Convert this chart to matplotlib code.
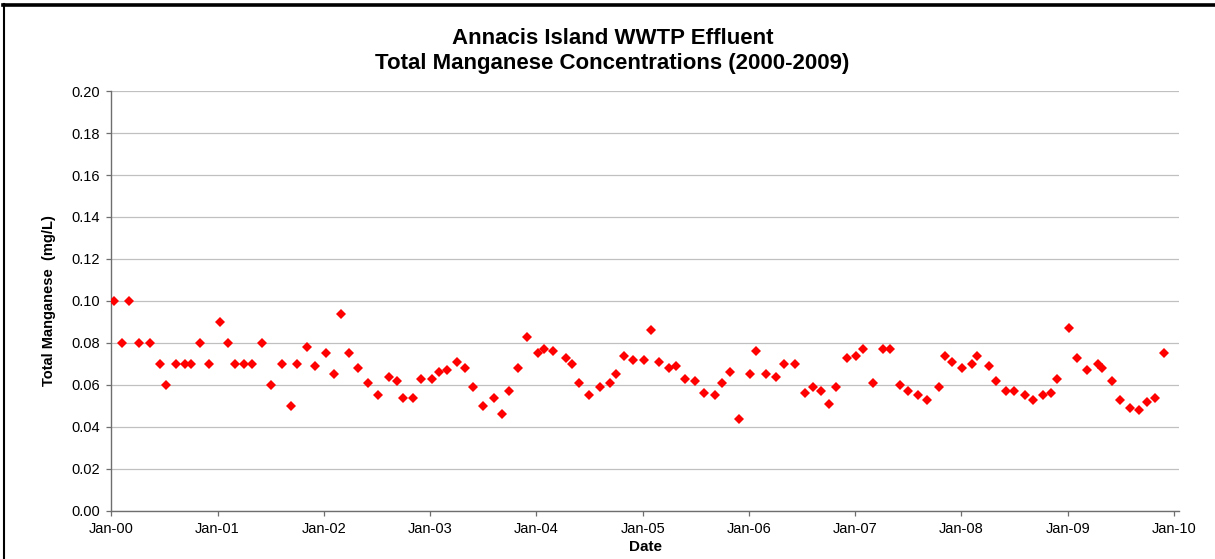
import numpy as np
import pandas as pd
import matplotlib
matplotlib.use("Agg")
import matplotlib.pyplot as plt
import matplotlib.dates as mdates
from matplotlib.lines import Line2D

plt.rcParams['font.family'] = ['Liberation Sans', 'DejaVu Sans']

# sample dates (roughly monthly)
sample_dates = [
    '2000-01-11', '2000-02-08', '2000-03-04', '2000-04-05', '2000-05-14', '2000-06-17',
    '2000-07-08', '2000-08-12', '2000-09-12', '2000-10-02', '2000-10-31', '2000-12-01',
    '2001-01-10', '2001-02-07', '2001-03-01', '2001-04-01', '2001-04-30', '2001-06-03',
    '2001-07-05', '2001-08-11', '2001-09-10', '2001-10-02', '2001-11-05', '2001-12-02',
    '2002-01-09', '2002-02-06', '2002-03-01', '2002-03-30', '2002-04-29', '2002-06-02',
    '2002-07-06', '2002-08-12', '2002-09-09', '2002-10-01', '2002-11-04', '2002-12-01',
    '2003-01-09', '2003-02-02', '2003-02-27', '2003-04-05', '2003-04-30', '2003-05-29',
    '2003-07-03', '2003-08-08', '2003-09-04', '2003-10-01', '2003-11-01', '2003-11-30',
    '2004-01-06', '2004-01-29', '2004-02-28', '2004-04-13', '2004-05-02', '2004-05-27',
    '2004-07-01', '2004-08-07', '2004-09-09', '2004-10-01', '2004-10-28', '2004-11-27',
    '2005-01-07', '2005-01-28', '2005-02-25', '2005-04-01', '2005-04-27', '2005-05-26',
    '2005-06-30', '2005-08-01', '2005-09-07', '2005-10-01', '2005-10-28', '2005-11-29',
    '2006-01-04', '2006-01-27', '2006-03-01', '2006-04-03', '2006-05-01', '2006-06-07',
    '2006-07-13', '2006-08-08', '2006-09-06', '2006-10-04', '2006-10-28', '2006-12-05',
    '2007-01-04', '2007-01-28', '2007-03-04', '2007-04-08', '2007-05-01', '2007-06-05',
    '2007-07-03', '2007-08-05', '2007-09-05', '2007-10-15', '2007-11-06', '2007-12-01',
    '2008-01-02', '2008-02-07', '2008-02-25', '2008-04-04', '2008-04-29', '2008-06-01',
    '2008-07-01', '2008-08-05', '2008-09-03', '2008-10-06', '2008-11-05', '2008-11-26',
    '2009-01-05', '2009-02-03', '2009-03-09', '2009-04-13', '2009-04-28', '2009-06-02',
    '2009-06-28', '2009-08-02', '2009-09-02', '2009-09-29', '2009-10-28', '2009-11-26',
]

# total manganese, mg/L
mn_total = [
    0.100, 0.080, 0.100, 0.080, 0.080, 0.070, 0.060, 0.070, 0.070, 0.070, 0.080, 0.070,
    0.090, 0.080, 0.070, 0.070, 0.070, 0.080, 0.060, 0.070, 0.050, 0.070, 0.078, 0.069,
    0.075, 0.065, 0.094, 0.075, 0.068, 0.061, 0.055, 0.064, 0.062, 0.054, 0.054, 0.063,
    0.063, 0.066, 0.067, 0.071, 0.068, 0.059, 0.050, 0.054, 0.046, 0.057, 0.068, 0.083,
    0.075, 0.077, 0.076, 0.073, 0.070, 0.061, 0.055, 0.059, 0.061, 0.065, 0.074, 0.072,
    0.072, 0.086, 0.071, 0.068, 0.069, 0.063, 0.062, 0.056, 0.055, 0.061, 0.066, 0.044,
    0.065, 0.076, 0.065, 0.064, 0.070, 0.070, 0.056, 0.059, 0.057, 0.051, 0.059, 0.073,
    0.074, 0.077, 0.061, 0.077, 0.077, 0.060, 0.057, 0.055, 0.053, 0.059, 0.074, 0.071,
    0.068, 0.070, 0.074, 0.069, 0.062, 0.057, 0.057, 0.055, 0.053, 0.055, 0.056, 0.063,
    0.087, 0.073, 0.067, 0.070, 0.068, 0.062, 0.053, 0.049, 0.048, 0.052, 0.054, 0.075,
]

y_ticks = [0.00, 0.02, 0.04, 0.06, 0.08, 0.10, 0.12, 0.14, 0.16, 0.18, 0.20]

dates = pd.to_datetime(sample_dates)

fig = plt.figure(figsize=(12.15, 5.59), dpi=100)
ax = fig.add_axes([0.0914, 0.0859, 0.879, 0.7513])

ax.plot(dates, mn_total, linestyle='none', marker='D', markersize=5.6,
        color='#FF0000', markeredgewidth=0, zorder=3)

ax.set_ylim(0, 0.20)
ax.set_yticks(y_ticks)
ax.yaxis.set_major_formatter(matplotlib.ticker.FormatStrFormatter('%.2f'))
ax.set_xlim(pd.Timestamp('2000-01-01'), pd.Timestamp('2010-01-18'))
ax.xaxis.set_major_locator(mdates.YearLocator())
ax.xaxis.set_major_formatter(mdates.DateFormatter('%b-%y'))

ax.grid(axis='y', color='#C0C0C0', linewidth=0.9, zorder=0)
ax.set_axisbelow(True)
for s in ['top', 'right']:
    ax.spines[s].set_visible(False)
for s in ['left', 'bottom']:
    ax.spines[s].set_color('#6E6E6E')
    ax.spines[s].set_linewidth(1.0)
ax.tick_params(axis='both', direction='out', length=3.6, width=0.9, color='#6E6E6E',
               labelsize=10.5, pad=4.5)

ax.set_ylabel('Total Manganese  (mg/L)', fontsize=10.5, fontweight='bold')
ax.yaxis.set_label_coords(-0.052, 0.5)
ax.set_xlabel('Date', fontsize=11, fontweight='bold')
ax.xaxis.set_label_coords(0.5, -0.068)

fig.text(0.504, 0.909, 'Annacis Island WWTP Effluent\nTotal Manganese Concentrations (2000-2009)',
         ha='center', va='center', fontsize=16, fontweight='bold', linespacing=1.23)

# outer frame (top and left edges only)
fig.add_artist(Line2D([0.0025, 1.0], [0.991, 0.991], transform=fig.transFigure,
                      color='black', linewidth=2.6))
fig.add_artist(Line2D([0.0033, 0.0033], [0.0, 0.993], transform=fig.transFigure,
                      color='black', linewidth=1.5))

fig.savefig('out.png', dpi=100)
